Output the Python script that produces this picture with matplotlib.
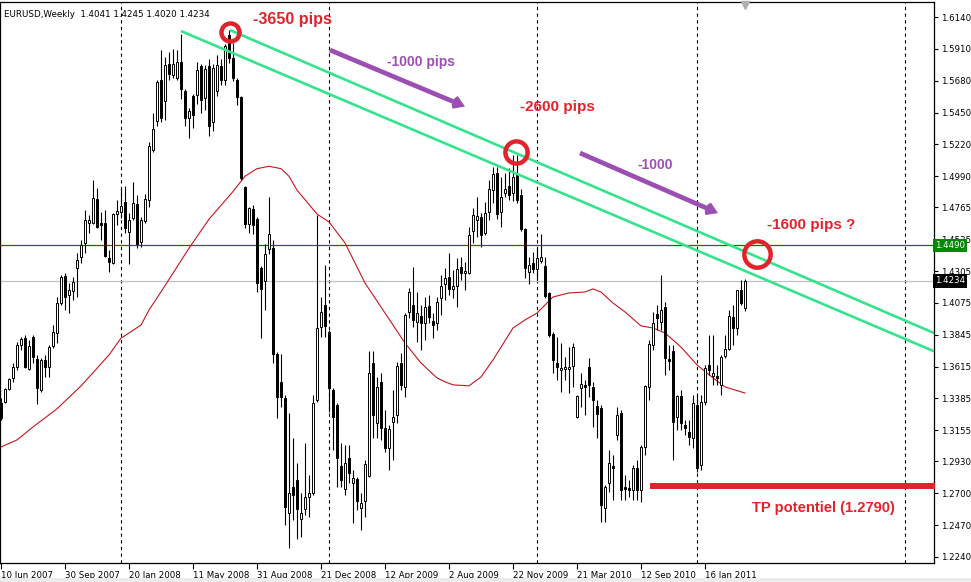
import matplotlib
matplotlib.use("Agg")
import matplotlib.pyplot as plt
import matplotlib.transforms as mtransforms
from matplotlib.patches import Rectangle
import numpy as np

# ---------------- data (EURUSD weekly) ----------------
opens = [1.3352, 1.3360, 1.3454, 1.3533, 1.3612, 1.3771, 1.3822, 1.3598, 1.3829, 1.3670,
         1.3446, 1.3663, 1.3612, 1.3764, 1.3858, 1.4074, 1.4270, 1.4133, 1.4162, 1.4328,
         1.4407, 1.4508, 1.4652, 1.4652, 1.4826, 1.4652, 1.4652, 1.4399, 1.4363, 1.4717,
         1.4732, 1.4805, 1.4588, 1.4688, 1.4790, 1.4516, 1.4667, 1.4819, 1.5181, 1.5387,
         1.5683, 1.5531, 1.5798, 1.5722, 1.5699, 1.5814, 1.5607, 1.5410, 1.5570, 1.5578,
         1.5784, 1.5555, 1.5784, 1.5380, 1.5607, 1.5784, 1.5683, 1.6011, 1.5844, 1.5683,
         1.5562, 1.4914, 1.4647, 1.4755, 1.4679, 1.4328, 1.4236, 1.4465, 1.4473, 1.3703,
         1.3505, 1.3388, 1.2558, 1.2745, 1.2796, 1.2515, 1.2587, 1.2673, 1.2702, 1.3374,
         1.3901, 1.4060, 1.3866, 1.3446, 1.3338, 1.2897, 1.2731, 1.2955, 1.2774, 1.2803,
         1.2594, 1.2645, 1.2825, 1.3641, 1.3208, 1.3505, 1.3172, 1.3027, 1.3216, 1.3266,
         1.3641, 1.3468, 1.4010, 1.4060, 1.3938, 1.3981, 1.3930, 1.4053, 1.3945, 1.3930,
         1.4111, 1.4212, 1.4262, 1.4176, 1.4198, 1.4334, 1.4291, 1.4291, 1.4595, 1.4674,
         1.4695, 1.4580, 1.4732, 1.4891, 1.5014, 1.4732, 1.4869, 1.4920, 1.4869, 1.5000,
         1.4855, 1.4609, 1.4299, 1.4363, 1.4320, 1.4378, 1.4342, 1.4147, 1.3851, 1.3641,
         1.3591, 1.3598, 1.3598, 1.3620, 1.3251, 1.3461, 1.3483, 1.3612, 1.3468, 1.3331,
         1.3316, 1.2594, 1.2774, 1.2897, 1.3121, 1.3280, 1.2745, 1.2738, 1.2724, 1.2883,
         1.2724, 1.3034, 1.3468, 1.3771, 1.3995, 1.3938, 1.4046, 1.3670, 1.3728, 1.3251,
         1.3403, 1.3194, 1.3143, 1.3099, 1.3338, 1.2905, 1.3360, 1.3627, 1.3548, 1.3548,
         1.3483, 1.3692, 1.3742, 1.3973, 1.3894, 1.4169, 1.4041]
highs = [1.3388, 1.3461, 1.3533, 1.3641, 1.3793, 1.3829, 1.3844, 1.3807, 1.3844, 1.3699,
         1.3677, 1.3699, 1.3771, 1.3916, 1.4118, 1.4277, 1.4291, 1.4219, 1.4262, 1.4435,
         1.4530, 1.4746, 1.4710, 1.4963, 1.4905, 1.4732, 1.4746, 1.4457, 1.4724, 1.4819,
         1.4913, 1.4920, 1.4724, 1.4949, 1.4855, 1.4695, 1.4862, 1.5238, 1.5448, 1.5683,
         1.5905, 1.5852, 1.5890, 1.5912, 1.5905, 1.6019, 1.5623, 1.5486, 1.5585, 1.5814,
         1.5798, 1.5791, 1.5836, 1.5798, 1.5867, 1.5836, 1.5943, 1.6049, 1.5951, 1.5699,
         1.5570, 1.4923, 1.4770, 1.4786, 1.4694, 1.4343, 1.4504, 1.4838, 1.4533, 1.3720,
         1.3706, 1.3410, 1.3280, 1.3099, 1.2919, 1.2702, 1.3063, 1.2832, 1.3410, 1.4710,
         1.4118, 1.4349, 1.3880, 1.3461, 1.3352, 1.3063, 1.3049, 1.3049, 1.2868, 1.2817,
         1.2702, 1.2941, 1.3728, 1.3728, 1.3540, 1.3569, 1.3302, 1.3194, 1.3446, 1.3649,
         1.3713, 1.4002, 1.4183, 1.4334, 1.4155, 1.4060, 1.4118, 1.4133, 1.4002, 1.4118,
         1.4277, 1.4328, 1.4435, 1.4313, 1.4399, 1.4406, 1.4371, 1.4623, 1.4761, 1.4840,
         1.4724, 1.4805, 1.4963, 1.5057, 1.5057, 1.4985, 1.5014, 1.5050, 1.5144, 1.5144,
         1.4898, 1.4616, 1.4406, 1.4443, 1.4479, 1.4573, 1.4406, 1.4155, 1.3866, 1.3829,
         1.3785, 1.3684, 1.3756, 1.3785, 1.3410, 1.3569, 1.3519, 1.3677, 1.3505, 1.3374,
         1.3338, 1.2760, 1.3013, 1.2977, 1.3323, 1.3302, 1.2832, 1.2796, 1.2905, 1.2941,
         1.3049, 1.3483, 1.3807, 1.4010, 1.4060, 1.4277, 1.4082, 1.3771, 1.3771, 1.3410,
         1.3446, 1.3230, 1.3230, 1.3410, 1.3410, 1.3410, 1.3627, 1.3844, 1.3844, 1.3627,
         1.3699, 1.3844, 1.4024, 1.4060, 1.4169, 1.4241, 1.4245]
lows = [1.3230, 1.3352, 1.3446, 1.3505, 1.3591, 1.3735, 1.3605, 1.3591, 1.3641, 1.3345,
        1.3432, 1.3540, 1.3540, 1.3749, 1.3785, 1.4060, 1.4024, 1.4002, 1.4096, 1.4118,
        1.4363, 1.4435, 1.4580, 1.4645, 1.4616, 1.4530, 1.4406, 1.4299, 1.4356, 1.4638,
        1.4688, 1.4580, 1.4356, 1.4674, 1.4472, 1.4479, 1.4652, 1.4768, 1.5166, 1.5356,
        1.5380, 1.5394, 1.5683, 1.5699, 1.5683, 1.5547, 1.5356, 1.5266, 1.5342, 1.5509,
        1.5448, 1.5471, 1.5280, 1.5318, 1.5570, 1.5646, 1.5646, 1.5806, 1.5676, 1.5502,
        1.4961, 1.4617, 1.4580, 1.4571, 1.4153, 1.3818, 1.4024, 1.4428, 1.3642, 1.3244,
        1.3323, 1.2471, 1.2305, 1.2507, 1.2370, 1.2384, 1.2544, 1.2529, 1.2688, 1.3360,
        1.3829, 1.3829, 1.3288, 1.3013, 1.2745, 1.2745, 1.2688, 1.2774, 1.2485, 1.2580,
        1.2435, 1.2529, 1.2817, 1.3099, 1.3099, 1.3085, 1.2999, 1.2868, 1.2941, 1.3208,
        1.3446, 1.3396, 1.3966, 1.3901, 1.3793, 1.3735, 1.3807, 1.3930, 1.3822, 1.3880,
        1.3988, 1.4096, 1.4133, 1.4111, 1.4046, 1.4241, 1.4169, 1.4284, 1.4508, 1.4551,
        1.4479, 1.4566, 1.4674, 1.4797, 1.4681, 1.4623, 1.4840, 1.4819, 1.4812, 1.4797,
        1.4595, 1.4255, 1.4212, 1.4291, 1.4241, 1.4363, 1.4111, 1.3829, 1.3569, 1.3519,
        1.3432, 1.3519, 1.3424, 1.3468, 1.3244, 1.3323, 1.3266, 1.3396, 1.3179, 1.3099,
        1.2493, 1.2493, 1.2710, 1.2652, 1.3085, 1.2652, 1.2652, 1.2673, 1.2652, 1.2652,
        1.2638, 1.2977, 1.3374, 1.3735, 1.3880, 1.3880, 1.3555, 1.3591, 1.2941, 1.3157,
        1.3157, 1.3121, 1.3049, 1.3027, 1.2854, 1.2868, 1.3338, 1.3555, 1.3483, 1.3483,
        1.3410, 1.3677, 1.3735, 1.3771, 1.3844, 1.4060, 1.4020]
closes = [1.3244, 1.3454, 1.3526, 1.3612, 1.3771, 1.3815, 1.3612, 1.3764, 1.3684, 1.3461,
          1.3663, 1.3612, 1.3756, 1.3866, 1.4074, 1.4262, 1.4118, 1.4169, 1.4227, 1.4385,
          1.4494, 1.4674, 1.4674, 1.4833, 1.4623, 1.4638, 1.4414, 1.4371, 1.4717, 1.4739,
          1.4775, 1.4616, 1.4674, 1.4797, 1.4501, 1.4674, 1.4826, 1.5209, 1.5333, 1.5669,
          1.5410, 1.5791, 1.5730, 1.5798, 1.5814, 1.5623, 1.5410, 1.5463, 1.5433, 1.5760,
          1.5540, 1.5768, 1.5356, 1.5775, 1.5791, 1.5683, 1.5928, 1.5844, 1.5699, 1.5562,
          1.4975, 1.4647, 1.4762, 1.4640, 1.4221, 1.4176, 1.4428, 1.4571, 1.3703, 1.3395,
          1.3395, 1.2601, 1.2702, 1.2688, 1.2587, 1.2558, 1.2673, 1.2702, 1.3352, 1.3894,
          1.4010, 1.3909, 1.3461, 1.3251, 1.2955, 1.2796, 1.2919, 1.2846, 1.2810, 1.2645,
          1.2630, 1.2912, 1.3569, 1.3266, 1.3468, 1.3172, 1.3027, 1.3165, 1.3251, 1.3620,
          1.3483, 1.3988, 1.4155, 1.3952, 1.4002, 1.3930, 1.4046, 1.3973, 1.3916, 1.4082,
          1.4198, 1.4255, 1.4176, 1.4198, 1.4320, 1.4291, 1.4306, 1.4566, 1.4710, 1.4703,
          1.4566, 1.4724, 1.4898, 1.5006, 1.4717, 1.4840, 1.4898, 1.4855, 1.4985, 1.4819,
          1.4609, 1.4328, 1.4349, 1.4320, 1.4399, 1.4406, 1.4126, 1.3844, 1.3663, 1.3612,
          1.3605, 1.3612, 1.3612, 1.3756, 1.3403, 1.3490, 1.3468, 1.3483, 1.3374, 1.3273,
          1.2616, 1.2745, 1.2919, 1.2883, 1.3266, 1.2724, 1.2731, 1.2724, 1.2883, 1.2724,
          1.3034, 1.3476, 1.3778, 1.3930, 1.3966, 1.4024, 1.3677, 1.3656, 1.3216, 1.3403,
          1.3208, 1.3172, 1.3107, 1.3352, 1.2883, 1.3360, 1.3605, 1.3591, 1.3569, 1.3533,
          1.3684, 1.3742, 1.3981, 1.3894, 1.4169, 1.4074, 1.4234]

# moving average (read at sampled bars)
ma_bars = [0, 4, 8, 14, 20, 27, 30, 35, 37, 40, 47, 52, 58, 61, 64, 67, 70, 72, 74, 79, 82, 86,
           91, 96, 101, 105, 109, 111, 113, 117, 120, 123, 128, 131, 134, 138, 142, 146,
           148, 150, 153, 156, 160, 163, 166, 170, 174, 178, 181, 186]
ma_vals = [1.3034, 1.3085, 1.3179, 1.3310, 1.3475, 1.3699, 1.3820, 1.3915, 1.4024, 1.4155,
           1.4470, 1.4680, 1.4880, 1.4990, 1.5045, 1.5062, 1.5045, 1.4990, 1.4890, 1.4717,
           1.4660, 1.4508,
           1.4219, 1.4002, 1.3785, 1.3641, 1.3533, 1.3505, 1.3483, 1.3476, 1.3540, 1.3663,
           1.3894, 1.3952, 1.4002, 1.4118, 1.4147, 1.4154, 1.4176, 1.4154, 1.4074, 1.4010,
           1.3909, 1.3894, 1.3858, 1.3756, 1.3627, 1.3533, 1.3468, 1.3424]

date_labels = ["10 Jun 2007", "30 Sep 2007", "20 Jan 2008", "11 May 2008", "31 Aug 2008",
               "21 Dec 2008", "12 Apr 2009", "2 Aug 2009", "22 Nov 2009", "21 Mar 2010",
               "12 Sep 2010", "16 Jan 2011"]
date_bars = [0, 16, 32, 48, 64, 80, 96, 112, 128, 144, 160, 176]
price_ticks = [1.6140, 1.5910, 1.5680, 1.5450, 1.5220, 1.4990, 1.4765, 1.4535, 1.4305,
               1.4075, 1.3845, 1.3615, 1.3385, 1.3155, 1.2930, 1.2700, 1.2470, 1.2240]
separator_bars = [30, 82, 134, 174, 226]

resistance_level = 1.4490
last_close = 1.4234
tp_level = 1.2755
tp_start_bar = 162.25

chan_upper_x = [57.25, 233.3]
chan_upper_y = [1.6046, 1.3857]
chan_lower_x = [45.0, 233.3]
chan_lower_y = [1.6039, 1.3725]

circle_x = [57.25, 128.75, 189.0]
circle_y = [1.6032, 1.5166, 1.4428]
circle_sizes = [13, 16, 19]

arrow1 = [(82.25, 1.5902), (116.0, 1.5494)]
arrow2 = [(144.75, 1.5158), (179.25, 1.4724)]

red_labels = ["-3650 pips", "-2600 pips", "-1600 pips ?", "TP potentiel (1.2790)"]
red_label_x = [63.0, 129.75, 191.5, 187.75]
red_label_y = [1.6119, 1.5494, 1.4638, 1.2594]
red_label_size = [11.6, 11.0, 11.0, 10.6]
purple_labels = ["-1000 pips", "-1000"]
purple_label_x = [96.5, 159.0]
purple_label_y = [1.5815, 1.5071]

# ---------------- figure ----------------
W, H = 971, 582
fig = plt.figure(figsize=(W / 100, H / 100), dpi=100)
fig.patch.set_facecolor("white")
ax = fig.add_axes([0.0, 19 / H, 934 / W, 561 / H])
ax.set_xlim(-0.25, 233.25)
ax.set_ylim(1.2196, 1.6249)

RED = "#e3232b"
PURPLE = "#9b4fb3"
GREEN = "#35e38c"
FONT = "DejaVu Sans"

# separators
for b in separator_bars:
    ax.axvline(b, color="black", lw=0.8, ls=(0, (3, 3)), zorder=1)

# horizontal levels
ax.axhline(resistance_level, color="#007a00", lw=0.9, zorder=1.5)
ax.axhline(last_close, color="#c0c0c0", lw=0.9, zorder=1.5)

# moving average
ax.plot(ma_bars, ma_vals, color="#c8141e", lw=0.8, zorder=2)

# candles
for i in range(len(closes)):
    o, h, l, c = opens[i], highs[i], lows[i], closes[i]
    ax.vlines(i, l, h, color="black", lw=0.8, zorder=3)
    bottom = min(o, c)
    height = max(abs(c - o), 0.0003)
    face = "white" if c >= o else "black"
    ax.add_patch(Rectangle((i - 0.36, bottom), 0.72, height, facecolor=face,
                           edgecolor="black", lw=0.7, zorder=3.5))

# channel lines
ax.plot(chan_upper_x, chan_upper_y, color=GREEN, lw=1.9, zorder=4, solid_capstyle="butt")
ax.plot(chan_lower_x, chan_lower_y, color=GREEN, lw=1.9, zorder=4, solid_capstyle="butt")

# TP line
ax.plot([tp_start_bar, 233.6], [tp_level, tp_level], color=RED, lw=4.3, zorder=5,
        clip_on=False, solid_capstyle="butt")

# circles
for cx, cy, s in zip(circle_x, circle_y, circle_sizes):
    ax.plot(cx, cy, marker="o", ms=s, mfc="none", mec=RED, mew=3.2, zorder=6)

# arrows
for (p0, p1) in (arrow1, arrow2):
    ax.annotate("", xy=p1, xytext=p0,
                arrowprops=dict(arrowstyle="->,head_length=0.55,head_width=0.35",
                                color=PURPLE, lw=3.4, shrinkA=0, shrinkB=0,
                                joinstyle="miter", capstyle="butt"), zorder=6)

# annotation labels
for t, x, y, s in zip(red_labels, red_label_x, red_label_y, red_label_size):
    ax.text(x, y, t, color=RED, fontsize=s, fontweight="bold", family="Liberation Sans",
            ha="left", va="center", zorder=7)
for t, x, y in zip(purple_labels, purple_label_x, purple_label_y):
    ax.text(x, y, t, color=PURPLE, fontsize=10, fontweight="bold", family="Liberation Sans",
            ha="left", va="center", zorder=7)

# header
ax.text(4 / 934, 1 - 8 / 561, "EURUSD,Weekly  %.4f %.4f %.4f %.4f" % (opens[-1], highs[-1], lows[-1], closes[-1]),
        transform=ax.transAxes, fontsize=6.3, family=FONT, ha="left", va="top", zorder=8)

# axes styling
for sp in ax.spines.values():
    sp.set_color("black")
    sp.set_linewidth(0.9)
ax.yaxis.tick_right()
ax.set_yticks(price_ticks)
ax.set_yticklabels(["%.4f" % p for p in price_ticks], fontsize=6.2, family=FONT)
ax.tick_params(axis="y", direction="out", length=3, width=0.8, pad=2)
ax.set_xticks(date_bars)
ax.set_xticklabels(date_labels, fontsize=6.2, family=FONT, ha="left")
ax.tick_params(axis="x", direction="out", length=4, width=0.8, pad=1.5)
for lab in ax.get_xticklabels():
    lab.set_horizontalalignment("left")

# price boxes on the right axis (they cover part of the 1.4535 label, as in MT4)
trans = mtransforms.blended_transform_factory(ax.transAxes, ax.transData)
ax.text(1.0 + 1 / 934, resistance_level, "%.4f" % resistance_level, transform=trans, color="white",
        fontsize=6.2, family=FONT, ha="left", va="center", clip_on=False, zorder=10,
        bbox=dict(boxstyle="square,pad=0.25", facecolor="#008a00", edgecolor="none"))
ax.text(1.0 + 1 / 934, last_close, "%.4f" % last_close, transform=trans, color="white",
        fontsize=6.2, family=FONT, ha="left", va="center", clip_on=False, zorder=10,
        bbox=dict(boxstyle="square,pad=0.25", facecolor="black", edgecolor="none"))

# chart-shift marker
ax.plot([186], [1.0 - 3 / 561], marker="v", ms=6, color="#b0b0b0",
        transform=mtransforms.blended_transform_factory(ax.transData, ax.transAxes),
        clip_on=False, zorder=9)

# bottom grey strip
fig.patches.append(Rectangle((0, 0), 1, 4 / H, transform=fig.transFigure,
                             facecolor="#ececec", edgecolor="none"))

fig.savefig("out.png", dpi=100)
